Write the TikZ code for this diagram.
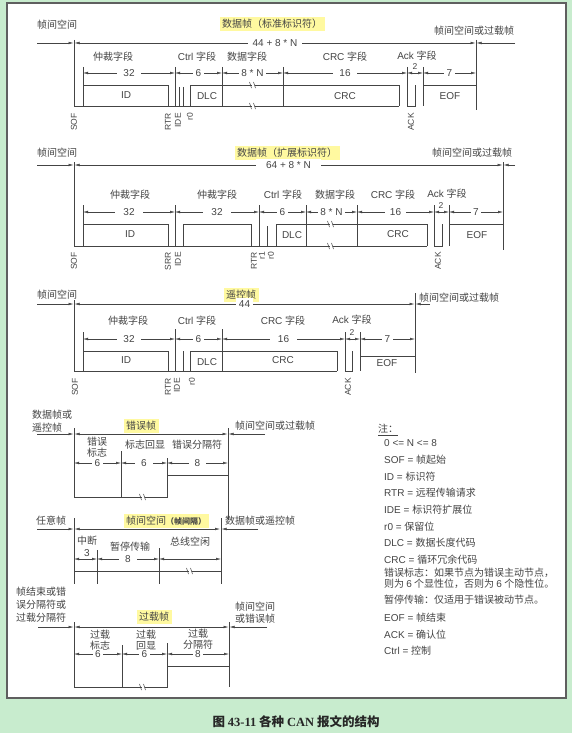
\documentclass[tikz,border=0pt]{standalone}
\usepackage{fontspec}
\setmainfont{Liberation Sans}
\newfontfamily\cjk{Noto Sans CJK SC}
\newfontfamily\capfont{Liberation Serif}
\usetikzlibrary{arrows.meta}
\definecolor{bggreen}{RGB}{200,236,206}
\definecolor{hilite}{RGB}{255,249,160}
\definecolor{ink}{RGB}{68,68,68}
\definecolor{frameline}{RGB}{95,95,95}

\tikzset{
  brk/.pic={\fill[white] (-1.5,-4) rectangle (1.5,4);
    \draw[ink, line width=0.5pt] (-3.5,-3) -- (-1.5,3) (0.5,-3) -- (2.5,3);}
}

\begin{document}
\begin{tikzpicture}[x=1pt,y=-1pt,
  sig/.style={ink, line width=0.7pt},
  dimarr/.style={ink, line width=0.5pt, {Latex[length=5pt,width=2.6pt]}-{Latex[length=5pt,width=2.6pt]}},
  inarr/.style={ink, line width=0.5pt, -{Latex[length=5pt,width=2.6pt]}},
  lat/.style={text=ink, inner sep=0pt, font=\fontsize{10}{12}\selectfont},
  zh/.style={text=ink, inner sep=0pt, font=\fontsize{10}{12}\selectfont\cjk},
  dimlbl/.style={fill=white, inner sep=2.5pt, text=ink, font=\fontsize{10}{12}\selectfont},
  rotlbl/.style={rotate=90, anchor=east, inner sep=0pt, text=ink, font=\fontsize{8.5}{10}\selectfont},
  ttl/.style={fill=hilite, inner xsep=2.5pt, inner ysep=2.5pt, text=ink, font=\fontsize{10}{12}\selectfont\cjk},
  note/.style={anchor=west, inner sep=0pt, text=ink, font=\fontsize{10}{12}\selectfont},
]

  % background, panel and caption
  \fill[bggreen] (0,0) rectangle (572,733);
  \draw[frameline, fill=white, line width=1.2pt] (7,3) rectangle (566,698);
  \node[inner sep=0pt, text=black!85, font=\fontsize{12.5}{14}\selectfont\bfseries\cjk] (caption) at (296,722)
    {图 {\capfont\bfseries 43-11} 各种 {\capfont\bfseries CAN} 报文的结构};

  % ---- data frame, standard identifier ----
  \node[zh, anchor=west] (f1pre) at (37,25) {帧间空间};
  \node[ttl] (f1ttl) at (272,24) {数据帧（标准标识符）};
  \node[zh, anchor=west] (f1post) at (434,31) {帧间空间或过载帧};
  \draw[inarr] (37,43) -- (73.5,43);
  \draw[dimarr] (74.5,43) -- node[dimlbl, inner xsep=5pt] (f1len) {44 + 8 * N} (475.5,43);
  \draw[inarr] (515,43) -- (476.5,43);

  \node[zh] (f1arb) at (113,57) {仲裁字段};
  \node[lat] (f1ctl) at (197,57) {Ctrl {\cjk 字段}};
  \node[zh] (f1dat) at (247,57) {数据字段};
  \node[lat] (f1crc) at (345,57) {CRC {\cjk 字段}};
  \node[lat] (f1ack) at (417,56) {Ack {\cjk 字段}};

  \draw[dimarr] (83,73) -- node[dimlbl, inner xsep=6pt] (f1d1) {32} (175,73);
  \draw[dimarr] (175,73) -- node[dimlbl] (f1d2) {6} (222,73);
  \draw[dimarr] (222,73) -- node[dimlbl] (f1d3) {8 * N} (283,73);
  \draw[dimarr] (283,73) -- node[dimlbl, inner xsep=6pt] (f1d4) {16} (407,73);
  \draw[dimarr] (407,73) -- (423,73);
  \node[lat, font=\fontsize{8.5}{10}\selectfont] (f1d5) at (415,66.5) {2};
  \draw[dimarr] (423,73) -- node[dimlbl] (f1d6) {7} (476,73);

  \draw[sig] (74,40) -- (74,106) -- (399,106);
  \draw[sig] (83,67) -- (83,106);
  \draw[sig] (83,85) -- (168,85) -- (168,106);
  \draw[sig] (175,67) -- (175,106);
  \draw[sig] (179,87) -- (179,106);
  \draw[sig] (183,87) -- (183,106);
  \draw[sig] (190,106) -- (190,85) -- (399,85) -- (399,106);
  \draw[sig] (222,67) -- (222,106);
  \draw[sig] (283,67) -- (283,106);
  \draw[sig] (407,67) -- (407,106) -- (415,106) -- (415,85);
  \draw[sig] (423,67) -- (423,106);
  \draw[sig] (423,85) -- (476,85);
  \draw[sig] (476,40) -- (476,110);
  \pic at (253,85) {brk};
  \pic at (253,106) {brk};

  \node[lat] (f1id) at (126,95) {ID};
  \node[lat] (f1dlc) at (207,96) {DLC};
  \node[lat] (f1crcb) at (345,96) {CRC};
  \node[lat] (f1eof) at (450,96) {EOF};
  \node[rotlbl] (f1sof) at (74,113) {SOF};
  \node[rotlbl] (f1rtr) at (168,113) {RTR};
  \node[rotlbl] (f1ide) at (178,113) {IDE};
  \node[rotlbl] (f1r0) at (190,113) {r0};
  \node[rotlbl] (f1ackb) at (411,113) {ACK};

  % ---- data frame, extended identifier ----
  \node[zh, anchor=west] (f2pre) at (37,153) {帧间空间};
  \node[ttl] (f2ttl) at (287,153) {数据帧（扩展标识符）};
  \node[zh, anchor=west] (f2post) at (432,153) {帧间空间或过载帧};
  \draw[inarr] (37,165) -- (73.5,165);
  \draw[dimarr] (74.5,165) -- node[dimlbl, inner xsep=10pt] (f2len) {64 + 8 * N} (502.5,165);
  \draw[inarr] (515,165) -- (503.5,165);

  \node[zh] (f2arb) at (130,195) {仲裁字段};
  \node[zh] (f2arbb) at (217,195) {仲裁字段};
  \node[lat] (f2ctl) at (283,195) {Ctrl {\cjk 字段}};
  \node[zh] (f2dat) at (335,195) {数据字段};
  \node[lat] (f2crc) at (393,195) {CRC {\cjk 字段}};
  \node[lat] (f2ack) at (447,194) {Ack {\cjk 字段}};

  \draw[dimarr] (83,212) -- node[dimlbl, inner xsep=8pt] (f2d1) {32} (175,212);
  \draw[dimarr] (175,212) -- node[dimlbl, inner xsep=8pt] (f2d2) {32} (259,212);
  \draw[dimarr] (259,212) -- node[dimlbl] (f2d3) {6} (306,212);
  \draw[dimarr] (306,212) -- node[dimlbl] (f2d4) {8 * N} (357,212);
  \draw[dimarr] (357,212) -- node[dimlbl, inner xsep=5pt] (f2d5) {16} (434,212);
  \draw[dimarr] (434,212) -- (449,212);
  \node[lat, font=\fontsize{8.5}{10}\selectfont] (f2d6) at (441,205.5) {2};
  \draw[dimarr] (449,212) -- node[dimlbl] (f2d7) {7} (503,212);

  \draw[sig] (74,162) -- (74,246) -- (427,246);
  \draw[sig] (83,205) -- (83,246);
  \draw[sig] (83,224) -- (168,224) -- (168,246);
  \draw[sig] (175,205) -- (175,246);
  \draw[sig] (183,246) -- (183,224) -- (251,224) -- (251,246);
  \draw[sig] (259,205) -- (259,246);
  \draw[sig] (267,226) -- (267,246);
  \draw[sig] (276,246) -- (276,224) -- (427,224) -- (427,246);
  \draw[sig] (306,205) -- (306,246);
  \draw[sig] (357,205) -- (357,246);
  \draw[sig] (434,205) -- (434,246) -- (442,246) -- (442,224);
  \draw[sig] (449,205) -- (449,246);
  \draw[sig] (449,224) -- (503,224);
  \draw[sig] (503,162) -- (503,250);
  \pic at (331,224) {brk};
  \pic at (331,246) {brk};

  \node[lat] (f2id) at (130,234) {ID};
  \node[lat] (f2dlc) at (292,235) {DLC};
  \node[lat] (f2crcb) at (398,234) {CRC};
  \node[lat] (f2eof) at (477,235) {EOF};
  \node[rotlbl] (f2sof) at (74,252) {SOF};
  \node[rotlbl] (f2srr) at (168,252) {SRR};
  \node[rotlbl] (f2ide) at (178,252) {IDE};
  \node[rotlbl] (f2rtr) at (254,252) {RTR};
  \node[rotlbl] (f2r1) at (262,252) {r1};
  \node[rotlbl] (f2r0) at (271,252) {r0};
  \node[rotlbl] (f2ackb) at (438,252) {ACK};

  % ---- remote frame ----
  \node[zh, anchor=west] (f3pre) at (37,295) {帧间空间};
  \node[ttl] (f3ttl) at (241,295) {遥控帧};
  \node[zh, anchor=west] (f3post) at (419,298) {帧间空间或过载帧};
  \draw[inarr] (37,304) -- (73.5,304);
  \draw[dimarr] (74.5,304) -- node[dimlbl] (f3len) {44} (414.5,304);
  \draw[inarr] (430,304) -- (415.5,304);

  \node[zh] (f3arb) at (128,321) {仲裁字段};
  \node[lat] (f3ctl) at (197,321) {Ctrl {\cjk 字段}};
  \node[lat] (f3crc) at (283,321) {CRC {\cjk 字段}};
  \node[lat] (f3ack) at (352,320) {Ack {\cjk 字段}};

  \draw[dimarr] (83,339) -- node[dimlbl, inner xsep=6pt] (f3d1) {32} (175,339);
  \draw[dimarr] (175,339) -- node[dimlbl] (f3d2) {6} (222,339);
  \draw[dimarr] (222,339) -- node[dimlbl, inner xsep=8pt] (f3d3) {16} (345,339);
  \draw[dimarr] (345,339) -- (360,339);
  \node[lat, font=\fontsize{8.5}{10}\selectfont] (f3d4) at (352,332.5) {2};
  \draw[dimarr] (360,339) -- node[dimlbl] (f3d5) {7} (415,339);

  \draw[sig] (74,300) -- (74,371) -- (337,371);
  \draw[sig] (83,332) -- (83,371);
  \draw[sig] (83,351) -- (168,351) -- (168,371);
  \draw[sig] (175,329) -- (175,371);
  \draw[sig] (183,351) -- (183,371);
  \draw[sig] (190,371) -- (190,351) -- (337,351) -- (337,371);
  \draw[sig] (222,329) -- (222,371);
  \draw[sig] (345,332) -- (345,371) -- (352,371) -- (352,351);
  \draw[sig] (360,332) -- (360,371);
  \draw[sig] (360,356) -- (415,356);
  \draw[sig] (415,293) -- (415,373);

  \node[lat] (f3id) at (126,360) {ID};
  \node[lat] (f3dlc) at (207,362) {DLC};
  \node[lat] (f3crcb) at (283,360) {CRC};
  \node[lat] (f3eof) at (387,363) {EOF};
  \node[rotlbl] (f3sof) at (75,378) {SOF};
  \node[rotlbl] (f3rtr) at (168,378) {RTR};
  \node[rotlbl] (f3ide) at (177,378) {IDE};
  \node[rotlbl] (f3r0) at (192,378) {r0};
  \node[rotlbl] (f3ackb) at (348,378) {ACK};

  % ---- error frame ----
  \node[zh, anchor=west, align=left, font=\fontsize{10}{13}\selectfont\cjk] (f4pre) at (32,421.5) {数据帧或\\遥控帧};
  \node[ttl] (f4ttl) at (141,426) {错误帧};
  \node[zh, anchor=west] (f4post) at (235,426) {帧间空间或过载帧};
  \draw[inarr] (37,434) -- (73.5,434);
  \draw[dimarr] (74.5,434) -- (227.5,434);
  \draw[inarr] (265,434) -- (228.5,434);

  \node[zh, align=center, font=\fontsize{10}{10.6}\selectfont\cjk] (f4flag) at (97,447) {错误\\标志};
  \node[zh] (f4echo) at (145,445) {标志回显};
  \node[zh] (f4del) at (197,445) {错误分隔符};
  \draw[dimarr] (74,463) -- node[dimlbl] (f4d1) {6} (121,463);
  \draw[dimarr] (121,463) -- node[dimlbl, inner xsep=6pt] (f4d2) {6} (167,463);
  \draw[dimarr] (167,463) -- node[dimlbl, inner xsep=6pt] (f4d3) {8} (228,463);

  \draw[sig] (74,428) -- (74,497) -- (167,497) -- (167,475) -- (228,475);
  \draw[sig] (121,451) -- (121,497);
  \draw[sig] (167,458) -- (167,475);
  \draw[sig] (228,428) -- (228,520);
  \pic at (143,497) {brk};

  % ---- interframe space ----
  \node[zh] (f5pre) at (51,521) {任意帧};
  \node[ttl] (f5ttl) at (166,521) {帧间空间{\fontsize{8}{10}\selectfont\bfseries （帧间隔）}};
  \node[zh, anchor=west] (f5post) at (225,521) {数据帧或遥控帧};
  \draw[inarr] (37,529) -- (73.5,529);
  \draw[dimarr] (74.5,529) -- (220,529);
  \draw[inarr] (258,529) -- (221.5,529);

  \node[zh] (f5int) at (87,541) {中断};
  \node[lat] (f5three) at (87,553) {3};
  \node[zh] (f5susp) at (130,547) {暂停传输};
  \node[zh] (f5idle) at (190,542) {总线空闲};
  \draw[dimarr] (74,559) -- (97,559);
  \draw[dimarr] (97,559) -- node[dimlbl, inner xsep=6pt] (f5d1) {8} (159,559);
  \draw[dimarr] (159,559) -- (221,559);

  \draw[sig] (74,518) -- (74,584);
  \draw[sig] (97,550) -- (97,584);
  \draw[sig] (159,548) -- (159,584);
  \draw[sig] (74,571) -- (221,571);
  \draw[sig] (221,518) -- (221,584);
  \pic at (190,571) {brk};

  % ---- overload frame ----
  \node[zh, anchor=west, align=left, font=\fontsize{10}{13}\selectfont\cjk] (f6pre) at (16,605) {帧结束或错\\误分隔符或\\过载分隔符};
  \node[ttl] (f6ttl) at (154,617) {过载帧};
  \node[zh, anchor=west, align=left, font=\fontsize{10}{11.6}\selectfont\cjk] (f6post) at (235,612.5) {帧间空间\\或错误帧};
  \draw[inarr] (38,627) -- (73.5,627);
  \draw[dimarr] (74.5,627) -- (228.5,627);
  \draw[inarr] (267,627) -- (229.5,627);

  \node[zh, align=center, font=\fontsize{10}{11}\selectfont\cjk] (f6flag) at (100,640.5) {过载\\标志};
  \node[zh, align=center, font=\fontsize{10}{11}\selectfont\cjk] (f6echo) at (146,640.5) {过载\\回显};
  \node[zh, align=center, font=\fontsize{10}{11}\selectfont\cjk] (f6del) at (198,639.5) {过载\\分隔符};
  \draw[dimarr] (74,654) -- node[dimlbl, inner ysep=1pt] (f6d1) {6} (122,654);
  \draw[dimarr] (122,654) -- node[dimlbl, inner ysep=1pt] (f6d2) {6} (167,654);
  \draw[dimarr] (167,654) -- node[dimlbl, inner ysep=1pt] (f6d3) {8} (229,654);

  \draw[sig] (74,622) -- (74,687) -- (167,687) -- (167,666) -- (229,666);
  \draw[sig] (122,645) -- (122,687);
  \draw[sig] (167,643) -- (167,666);
  \draw[sig] (229,622) -- (229,687);
  \pic at (143,687) {brk};

  % ---- notes ----
  \node[note, font=\fontsize{10}{12}\selectfont\cjk] (nhead) at (378,430) {\underline{注：}};
  \node[note] (n1) at (384,443) {0 <= N <= 8};
  \node[note] (n2) at (384,460) {SOF = {\cjk 帧起始}};
  \node[note] (n3) at (384,477) {ID = {\cjk 标识符}};
  \node[note] (n4) at (384,493) {RTR = {\cjk 远程传输请求}};
  \node[note] (n5) at (384,510) {IDE = {\cjk 标识符扩展位}};
  \node[note] (n6) at (384,527) {r0 = {\cjk 保留位}};
  \node[note] (n7) at (384,543) {DLC = {\cjk 数据长度代码}};
  \node[note] (n8) at (384,560) {CRC = {\cjk 循环冗余代码}};
  \node[note, font=\fontsize{10}{12}\selectfont\cjk] (n9) at (384,573) {错误标志：如果节点为错误主动节点，};
  \node[note, font=\fontsize{10}{12}\selectfont\cjk] (n10) at (384,584) {则为 {\rmfamily 6} 个显性位，否则为 {\rmfamily 6} 个隐性位。};
  \node[note, font=\fontsize{10}{12}\selectfont\cjk] (n11) at (384,600) {暂停传输：仅适用于错误被动节点。};
  \node[note] (n12) at (384,618) {EOF = {\cjk 帧结束}};
  \node[note] (n13) at (384,635) {ACK = {\cjk 确认位}};
  \node[note] (n14) at (384,651) {Ctrl = {\cjk 控制}};

\end{tikzpicture}
\end{document}
